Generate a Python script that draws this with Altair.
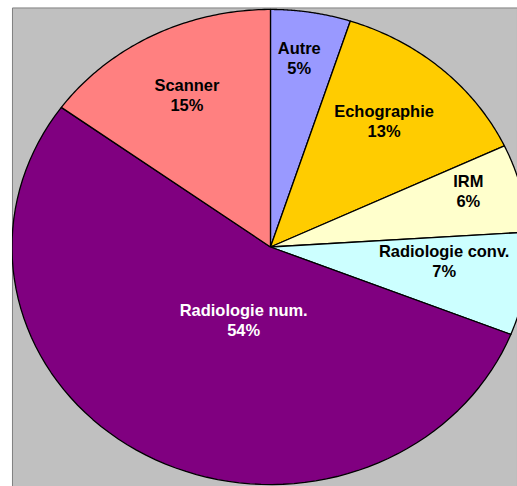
import altair as alt
import pandas as pd

# Share of examinations by imaging modality (%)
categories = ["Autre", "Echographie", "IRM", "Radiologie conv.", "Radiologie num.", "Scanner"]
shares = [5, 13, 6, 7, 54, 15]

# Styling / layout
slice_colors = ["#9999FF", "#FFCC00", "#FFFFCC", "#CCFFFF", "#800080", "#FF8080"]
label_colors = ["black", "black", "black", "black", "white", "black"]
label_radius = [0.80, 0.685, 0.80, 0.675, 0.33, 0.712]   # fraction of pie radius
label_turn = [-1.0, -1.5, -2.5, -3.5, -10.5, 0.0]         # degrees from slice mid-angle

table = pd.DataFrame({
    "cat": categories,
    "value": shares,
    "rank": list(range(len(categories))),
    "label_r": label_radius,
    "label_turn": label_turn,
    "label_color": label_colors,
})

W, H = 506, 480
CX, RX = 259, 259          # horizontal centre / radius in px
RY = 238                   # vertical radius in px (pie is slightly squashed)
x_dom = [-CX / RX, (W - CX) / RX]
y_dom = [-(H / 2) / RY, (H / 2) / RY]

xs = alt.Scale(domain=x_dom, nice=False, zero=False)
ys = alt.Scale(domain=y_dom, nice=False, zero=False)

base = (
    alt.Chart(table)
    .transform_window(cum="sum(value)", sort=[alt.SortField("rank")], frame=[None, 0])
    .transform_joinaggregate(total="sum(value)")
    .transform_calculate(
        a0="2*PI*(datum.cum - datum.value)/datum.total",
        a1="2*PI*datum.cum/datum.total",
    )
)

N = 80
slices = (
    base.transform_calculate(idx=f"sequence(-1, {N + 2})")
    .transform_flatten(["idx"])
    .transform_calculate(t=f"clamp(datum.idx, 0, {N}) / {N}")
    .transform_calculate(ang="datum.a0 + datum.t*(datum.a1 - datum.a0)")
    .transform_calculate(
        px=f"(datum.idx < 0 || datum.idx > {N}) ? 0 : sin(datum.ang)",
        py=f"(datum.idx < 0 || datum.idx > {N}) ? 0 : cos(datum.ang)",
    )
    .mark_line(stroke="black", strokeWidth=1.3, clip=True, strokeJoin="round")
    .encode(
        x=alt.X("px:Q", scale=xs, axis=None),
        y=alt.Y("py:Q", scale=ys, axis=None),
        order=alt.Order("idx:Q"),
        detail="cat:N",
        fill=alt.Fill("cat:N", scale=alt.Scale(domain=categories, range=slice_colors), legend=None),
    )
)

labels = (
    base.transform_calculate(
        mid="(datum.a0 + datum.a1)/2 + datum.label_turn*PI/180",
        txt="datum.cat + '\\n' + datum.value + '%'",
    )
    .transform_calculate(
        lx="datum.label_r * sin(datum.mid)",
        ly="datum.label_r * cos(datum.mid)",
    )
    .mark_text(
        font="Liberation Sans", fontSize=16.5, fontWeight="bold",
        lineBreak="\n", lineHeight=20, align="center", baseline="middle", dy=-10,
    )
    .encode(
        x=alt.X("lx:Q", scale=xs, axis=None),
        y=alt.Y("ly:Q", scale=ys, axis=None),
        text="txt:N",
        color=alt.Color("label_color:N", scale=None),
    )
)

chart = (
    alt.layer(slices, labels)
    .properties(
        width=W, height=H,
        autosize=alt.AutoSizeParams(type="none"),
        padding={"left": 12, "top": 7, "right": 0, "bottom": 0},
        background="white",
    )
    .configure_view(fill="#C0C0C0", stroke="#808080", strokeWidth=1)
)

chart.save("out.html", embed_options={"renderer": "svg", "actions": False})
